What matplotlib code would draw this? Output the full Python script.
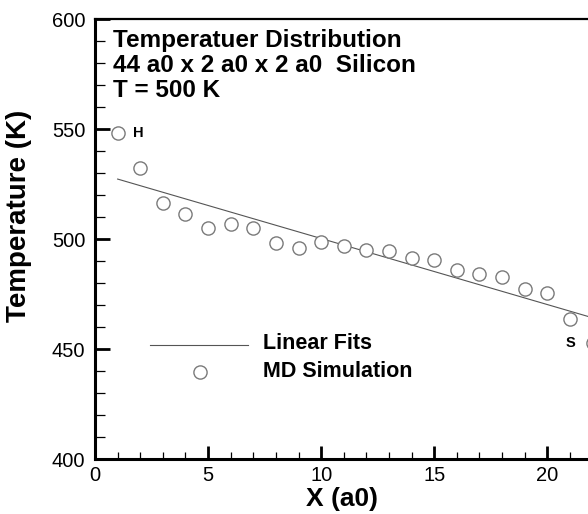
import matplotlib
matplotlib.use("Agg")
import matplotlib.pyplot as plt
from matplotlib.ticker import MultipleLocator

plt.rcParams['font.family'] = ['Liberation Sans', 'DejaVu Sans']

# MD simulation temperatures along the bar (one point per a0)
md_x = [1, 2, 3, 4, 5, 6, 7, 8, 9, 10, 11, 12, 13, 14, 15, 16, 17, 18, 19, 20, 21, 22]
md_t = [548.2, 532.3, 516.4, 511.4, 505.0, 506.8, 505.0, 498.2, 496.2, 498.5, 497.0,
        495.1, 494.8, 491.4, 490.6, 486.0, 484.2, 482.7, 477.4, 475.5, 463.9, 453.0]

# linear fit, end points
fit_x = [1, 23]
fit_t = [527.3, 461.3]

title_lines = ["Temperatuer Distribution", "44 a0 x 2 a0 x 2 a0  Silicon", "T = 500 K"]

fig = plt.figure(figsize=(5.88, 5.14), dpi=100)
ax = fig.add_axes([0.1616, 0.1064, 0.8384, 0.8566])

ax.plot(fit_x, fit_t, color="#555555", lw=0.8)
ax.plot(md_x, md_t, linestyle="none", marker="o", ms=9.5, mfc="white",
        mec="#7a7a7a", mew=1.0)

ax.set_xlim(0, 21.8)
ax.set_ylim(400, 600)
ax.xaxis.set_major_locator(MultipleLocator(5))
ax.xaxis.set_minor_locator(MultipleLocator(1))
ax.yaxis.set_major_locator(MultipleLocator(50))
ax.yaxis.set_minor_locator(MultipleLocator(10))
ax.tick_params(which="major", direction="in", width=2.0, labelsize=14.5,
               top=False, right=False)
ax.tick_params(which="minor", direction="in", width=0.9, top=False, right=False)
ax.tick_params(axis="y", which="major", length=11, pad=7)
ax.tick_params(axis="y", which="minor", length=7)
ax.tick_params(axis="x", which="major", length=9.5, pad=5)
ax.tick_params(axis="x", which="minor", length=5)

for side in ["left", "bottom"]:
    ax.spines[side].set_linewidth(2.2)
ax.spines["top"].set_linewidth(1.6)
ax.spines["right"].set_visible(False)

ax.set_xlabel("X (a0)", fontsize=19, fontweight="bold", labelpad=0)
ax.xaxis.set_label_coords(0.5, -0.064)
ax.set_ylabel("Temperature (K)", fontsize=20, fontweight="bold")
ax.yaxis.set_label_coords(-0.128, 0.554)

# title block in the upper-left corner
for i, line in enumerate(title_lines):
    ax.text(0.8, 587.5 - i * 11.36, line, fontsize=17.5, fontweight="bold",
            va="baseline", ha="left")

# end labels
ax.text(md_x[0] + 0.68, md_t[0], "H", fontsize=10.5, fontweight="bold", va="center", ha="left")
ax.text(md_x[-1] - 0.75, md_t[-1], "S", fontsize=10.5, fontweight="bold", va="center", ha="right")

# hand-placed legend
ax.plot([2.43, 6.77], [452.0, 452.0], color="#555555", lw=0.8)
ax.plot([4.65], [439.8], linestyle="none", marker="o", ms=9.5, mfc="white",
        mec="#7a7a7a", mew=1.0)
ax.text(7.43, 450.0, "Linear Fits", fontsize=15.5, fontweight="bold", va="baseline", ha="left")
ax.text(7.43, 437.5, "MD Simulation", fontsize=15.5, fontweight="bold", va="baseline", ha="left")

fig.savefig("out.png", dpi=100)
